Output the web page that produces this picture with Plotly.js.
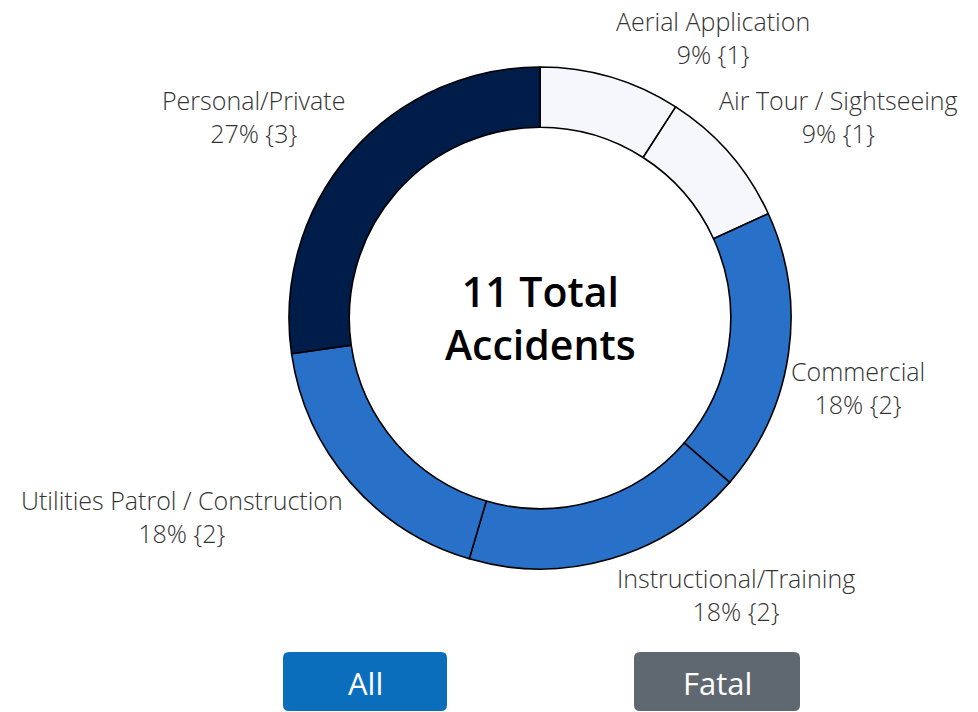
<!DOCTYPE html>
<html>
<head>
<meta charset="utf-8">
<script src="https://cdn.plot.ly/plotly-3.0.1.min.js"></script>
<style>
  html, body { margin: 0; padding: 0; background: #fff; }
  #chart { width: 978px; height: 712px; }
</style>
</head>
<body>
<div id="chart"></div>
<script>
// Accidents by flight purpose (clockwise from 12 o'clock)
var purposes = ['Aerial Application', 'Air Tour / Sightseeing', 'Commercial',
                'Instructional/Training', 'Utilities Patrol / Construction', 'Personal/Private'];
var accidents = [1, 1, 2, 2, 2, 3];
var buttonLabels = ['All', 'Fatal'];

var sliceColors = ['#f5f7fc', '#f5f7fc', '#2870c8', '#2870c8', '#2870c8', '#001c48'];

// where each outside label sits (paper px, centre of text block)
var labelPos = [[713, 37], [838, 116], [858, 387], [736, 594], [182, 516], [253, 116]];

var W = 978, H = 712;
function px(x) { return x / W; }
function py(y) { return 1 - y / H; }

var total = accidents.reduce(function(a, b) { return a + b; }, 0);

var trace = {
    type: 'pie',
    labels: purposes,
    values: accidents,
    sort: false,
    direction: 'clockwise',
    rotation: 0,
    hole: 0.76,
    textinfo: 'none',
    hoverinfo: 'label+value+percent',
    marker: { colors: sliceColors, line: { color: '#000', width: 1.6 } },
    domain: { x: [px(289), px(791)], y: [py(569), py(67)] },
    showlegend: false
};

var annotations = purposes.map(function(p, i) {
    var pct = Math.round(accidents[i] / total * 100);
    return {
        xref: 'paper', yref: 'paper',
        x: px(labelPos[i][0]), y: py(labelPos[i][1]),
        xanchor: 'center', yanchor: 'middle',
        text: p + '<br>' + pct + '% {' + accidents[i] + '}',
        showarrow: false, align: 'center',
        font: { family: 'Open Sans, sans-serif', size: 25, weight: 300, color: '#333' }
    };
});

// centre title
annotations.push({
    xref: 'paper', yref: 'paper', x: px(540), y: py(318),
    xanchor: 'center', yanchor: 'middle',
    text: total + ' Total<br>Accidents', showarrow: false,
    font: { family: 'Open Sans, sans-serif', size: 41, weight: 600, color: '#000' }
});

// filter buttons (just drawn, not interactive)
var btns = [
    { x0: 283, x1: 447, color: '#0a6ebd' },
    { x0: 634, x1: 800, color: '#5f6770' }
];
function roundRect(x0, y0, x1, y1, rx, ry) {
    return 'M' + (x0 + rx) + ',' + y0 + ' L' + (x1 - rx) + ',' + y0 + ' Q' + x1 + ',' + y0 + ' ' + x1 + ',' + (y0 - ry) +
        ' L' + x1 + ',' + (y1 + ry) + ' Q' + x1 + ',' + y1 + ' ' + (x1 - rx) + ',' + y1 +
        ' L' + (x0 + rx) + ',' + y1 + ' Q' + x0 + ',' + y1 + ' ' + x0 + ',' + (y1 + ry) +
        ' L' + x0 + ',' + (y0 - ry) + ' Q' + x0 + ',' + y0 + ' ' + (x0 + rx) + ',' + y0 + ' Z';
}
var shapes = btns.map(function(b) {
    return {
        type: 'path', xref: 'paper', yref: 'paper',
        path: roundRect(px(b.x0), py(652), px(b.x1), py(711), 6 / W, 6 / H),
        fillcolor: b.color, line: { width: 0 }
    };
});
btns.forEach(function(b, i) {
    annotations.push({
        xref: 'paper', yref: 'paper', x: px((b.x0 + b.x1) / 2), y: py(683),
        xanchor: 'center', yanchor: 'middle',
        text: buttonLabels[i], showarrow: false,
        font: { family: 'Open Sans, sans-serif', size: 31, color: '#fff' }
    });
});

var layout = {
    width: W, height: H,
    margin: { l: 0, r: 0, t: 0, b: 0 },
    paper_bgcolor: '#fff',
    annotations: annotations,
    shapes: shapes
};

Plotly.newPlot('chart', [trace], layout, { displayModeBar: false });
</script>
</body>
</html>
